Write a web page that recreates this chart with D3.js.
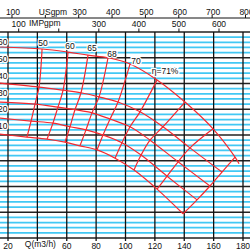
<!DOCTYPE html>
<html>
<head>
<meta charset="utf-8">
<script src="https://cdn.jsdelivr.net/npm/d3@7"></script>
<style>
  body { margin: 0; background: #fff; }
  svg { display: block; }
</style>
</head>
<body>
<div id="vis"></div>
<script>
// ---- data ----
const flowTicks = [20, 40, 60, 80, 100, 120, 140, 160, 180];
const flowLabelTicks = [20, 60, 80, 100, 120, 140, 160, 180];
const usTicks = [100, 200, 300, 400, 500, 600, 700, 800];
const usLabelTicks = [100, 300, 400, 500, 600, 700, 800];
const impTicks = [100, 200, 300, 400, 500, 600];
const impLabelTicks = [100, 300, 400, 500, 600];
const headTicks = [60, 50, 40, 30, 20, 10];

// H-Q curves: flow (m3/h) and height in grid rows, one row per node
const arcFlow = [
  [13.2, 43.2, 60.9, 74.5, 88.1, 103.1, 121.5, 140.5, 159.6, 174.6, 177.3],
  [13.2, 41.1, 57.5, 69.7, 82.0, 94.9, 109.9, 125.5, 143.9, 165.7],
  [13.2, 38.4, 54.0, 65.6, 77.2, 89.5, 103.1, 116.7, 135.8, 157.5],
  [13.2, 35.7, 50.6, 62.2, 73.1, 84.7, 97.6, 110.6, 128.3, 148.7],
  [13.2, 32.9, 46.6, 58.8, 69.0, 80.6, 92.9, 105.8, 121.5, 139.2]
];
const arcRow = [
  [37.1, 36.7, 36.1, 35.5, 35.0, 33.8, 30.7, 26.4, 21.2, 15.7, 14.4],
  [30.1, 29.3, 28.7, 28.2, 27.4, 26.4, 24.5, 21.6, 17.5, 12.8],
  [26.4, 26.0, 25.4, 24.9, 24.3, 23.1, 21.6, 19.0, 14.8, 10.1],
  [23.3, 22.7, 22.3, 21.6, 21.0, 20.0, 18.5, 16.1, 12.0, 7.4],
  [20.2, 19.6, 19.2, 18.6, 17.9, 17.1, 15.5, 13.2, 9.5, 4.7]
];
// efficiency labels sit on the top end of radial lines 1..6
const effLabels = ["50", "60", "65", "68", "70", "η=71%"];

const US_TO_M3H = 0.22712;
const IMP_TO_M3H = 0.27277;

const W = 250, H = 250;
const FONT = "Liberation Sans, Arial, sans-serif";

const svg = d3.select("#vis").append("svg")
  .attr("width", W).attr("height", H)
  .attr("viewBox", `0 0 ${W} ${H}`);

const x = d3.scaleLinear().domain([20, 180]).range([8, 243]);
const yRow = d3.scaleLinear().domain([0, 40]).range([238, 32]);
const yHead = d3.scaleLinear().domain([10, 60]).range([127, 43]);

// ---- grid ----
const grid = svg.append("g");
const rows = d3.range(0, 41);

grid.selectAll("line.minor")
  .data(rows.filter(r => r % 5 !== 0))
  .join("line")
  .attr("x1", 0).attr("x2", W)
  .attr("y1", d => yRow(d)).attr("y2", d => yRow(d))
  .attr("stroke", "#42c8f4")
  .attr("stroke-width", 1.7);

grid.selectAll("line.major")
  .data(rows.filter(r => r % 5 === 0))
  .join("line")
  .attr("x1", 0).attr("x2", W)
  .attr("y1", d => yRow(d)).attr("y2", d => yRow(d))
  .attr("stroke", "#222")
  .attr("stroke-width", 1.3);

grid.selectAll("line.v")
  .data(flowTicks)
  .join("line")
  .attr("x1", d => x(d)).attr("x2", d => x(d))
  .attr("y1", yRow(40)).attr("y2", yRow(0) + 3)
  .attr("stroke", "#111")
  .attr("stroke-width", 1.3);

// ---- top scales ----
const topG = svg.append("g")
  .style("font", `8.5px ${FONT}`)
  .attr("fill", "#111");

topG.append("line")
  .attr("x1", 0).attr("x2", W).attr("y1", 18).attr("y2", 18)
  .attr("stroke", "#111").attr("stroke-width", 1);

topG.selectAll("line.us")
  .data(usTicks)
  .join("line")
  .attr("class", "us")
  .attr("x1", d => x(d * US_TO_M3H)).attr("x2", d => x(d * US_TO_M3H))
  .attr("y1", 15).attr("y2", 18)
  .attr("stroke", "#111");

topG.selectAll("text.us")
  .data(usLabelTicks)
  .join("text")
  .attr("class", "us")
  .attr("x", d => x(d * US_TO_M3H) + 1)
  .attr("y", 14.5)
  .attr("text-anchor", "middle")
  .text(d => d);

topG.append("text")
  .attr("x", 53).attr("y", 14.5)
  .attr("text-anchor", "middle")
  .text("USgpm");

topG.selectAll("line.imp")
  .data(impTicks)
  .join("line")
  .attr("class", "imp")
  .attr("x1", d => x(d * IMP_TO_M3H)).attr("x2", d => x(d * IMP_TO_M3H))
  .attr("y1", 28.5).attr("y2", 32)
  .attr("stroke", "#111");

topG.selectAll("text.imp")
  .data(impLabelTicks)
  .join("text")
  .attr("class", "imp")
  .attr("x", d => x(d * IMP_TO_M3H))
  .attr("y", 26.5)
  .attr("text-anchor", "middle")
  .text(d => d);

topG.append("text")
  .attr("x", 29).attr("y", 26)
  .text("IMPgpm");

// ---- curves ----
const line = d3.line()
  .x(d => x(d[0]))
  .y(d => yRow(d[1]))
  .curve(d3.curveCatmullRom.alpha(0.5));

const arcs = arcFlow.map((qs, i) => qs.map((q, j) => [q, arcRow[i][j]]));
const radials = d3.range(1, 10).map(j => arcs.map(a => a[j]));

const curves = svg.append("g")
  .attr("fill", "none")
  .attr("stroke", "#f4282f")
  .attr("stroke-width", 1.2);

curves.selectAll("path.arc")
  .data(arcs)
  .join("path")
  .attr("class", "arc")
  .attr("d", line);

curves.selectAll("path.rad")
  .data(radials)
  .join("path")
  .attr("class", "rad")
  .attr("d", line);

// efficiency labels
const labelOffset = [[1, -5], [2, -5], [4, -6], [4, -3], [6, -2], [8, -8]];
svg.append("g")
  .style("font", `8.5px ${FONT}`)
  .attr("fill", "#111")
  .selectAll("text")
  .data(effLabels)
  .join("text")
  .attr("x", (d, i) => x(radials[i][0][0]) + labelOffset[i][0])
  .attr("y", (d, i) => yRow(radials[i][0][1]) + labelOffset[i][1])
  .attr("text-anchor", "middle")
  .attr("dominant-baseline", "middle")
  .attr("stroke", "#fff").attr("stroke-width", 2.5)
  .attr("paint-order", "stroke")
  .text(d => d);

// head labels at left edge
svg.append("g")
  .style("font", `8.5px ${FONT}`)
  .attr("fill", "#111")
  .selectAll("text")
  .data(headTicks)
  .join("text")
  .attr("x", 7.5)
  .attr("y", d => yHead(d))
  .attr("text-anchor", "end")
  .attr("dominant-baseline", "middle")
  .attr("stroke", "#fff").attr("stroke-width", 2.5)
  .attr("paint-order", "stroke")
  .text(d => d);

// ---- bottom labels ----
const bottom = svg.append("g")
  .style("font", `8.5px ${FONT}`)
  .attr("fill", "#111");

bottom.selectAll("text")
  .data(flowLabelTicks)
  .join("text")
  .attr("x", d => x(d))
  .attr("y", 249)
  .attr("text-anchor", "middle")
  .text(d => d);

bottom.append("text")
  .attr("x", x(40) + 3)
  .attr("y", 247)
  .attr("text-anchor", "middle")
  .text("Q(m3/h)");
</script>
</body>
</html>
